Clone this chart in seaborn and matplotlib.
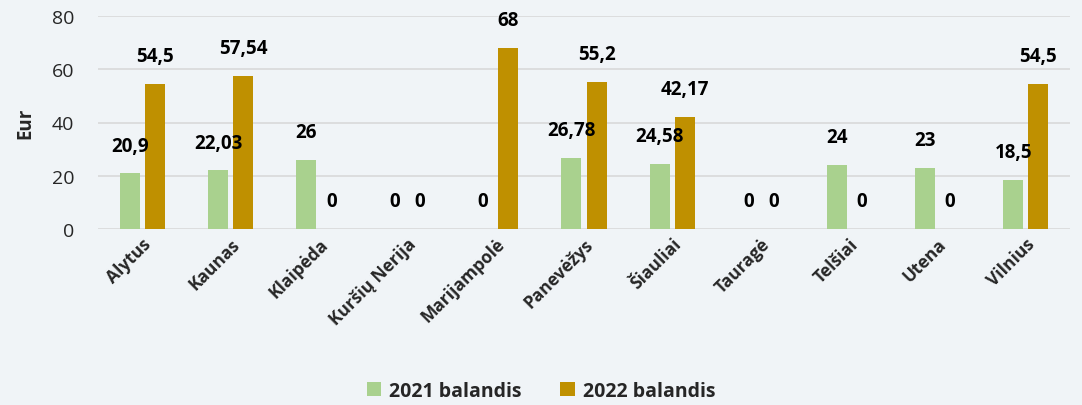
import pandas as pd
import matplotlib.pyplot as plt
import seaborn as sns

# duomenys
regions = ["Alytus", "Kaunas", "Klaipėda", "Kuršių Nerija", "Marijampolė",
           "Panevėžys", "Šiauliai", "Tauragė", "Telšiai", "Utena", "Vilnius"]
apr_2021 = [20.9, 22.03, 26, 0, 0, 26.78, 24.58, 0, 24, 23, 18.5]
apr_2022 = [54.5, 57.54, 0, 0, 68, 55.2, 42.17, 0, 0, 0, 54.5]
series = ["2021 balandis", "2022 balandis"]
colors = ["#A9D18E", "#BF9000"]
bg = "#F0F4F7"

df = pd.DataFrame({
    "region": regions * 2,
    "value": apr_2021 + apr_2022,
    "series": [series[0]] * len(regions) + [series[1]] * len(regions),
})

sns.set_style("white")
plt.rcParams["font.family"] = ["Open Sans", "DejaVu Sans"]

fig = plt.figure(figsize=(10.82, 4.06), dpi=100, facecolor=bg)
ax = fig.add_axes([98 / 1082, 176 / 406, (1070 - 98) / 1082, 213 / 406])
ax.set_facecolor(bg)

sns.barplot(data=df, x="region", y="value", hue="series", order=regions,
            palette=colors, width=0.566, gap=0.2, ax=ax, saturation=1,
            linewidth=0)

for cont in ax.containers:
    for b in cont:
        lab = ("%g" % b.get_height()).replace(".", ",")
        ax.annotate(lab, (b.get_x() + b.get_width() / 2, b.get_height()),
                    xytext=(0, 20), textcoords="offset points",
                    ha="center", va="center", fontsize=13.5, fontweight="bold",
                    color="black")

ax.set_ylim(0, 80)
ax.set_xlim(-0.5, 10.5)
ax.set_yticks(range(0, 81, 20))
ax.yaxis.grid(True, color="#D9D9D9", linewidth=1.2)
ax.set_axisbelow(True)
for s in ax.spines.values():
    s.set_visible(False)
ax.tick_params(axis="y", labelsize=14, colors="#262626", length=0, pad=17)
ax.tick_params(axis="x", length=0, pad=4)
plt.setp(ax.get_xticklabels(), rotation=45, ha="right", rotation_mode="anchor",
         fontsize=12.5, fontweight="bold")
ax.set_xlabel("")
ax.set_ylabel("Eur", fontsize=13.5, fontweight="bold", labelpad=12)

ax.legend(loc="center", bbox_to_anchor=(0.5, 14 / 406),
          bbox_transform=fig.transFigure, ncol=2, frameon=False,
          handlelength=0.75, handleheight=0.75, handletextpad=0.4,
          columnspacing=2.0, prop={"size": 14, "weight": "bold"})

fig.savefig("out.png", dpi=100, facecolor=bg)
